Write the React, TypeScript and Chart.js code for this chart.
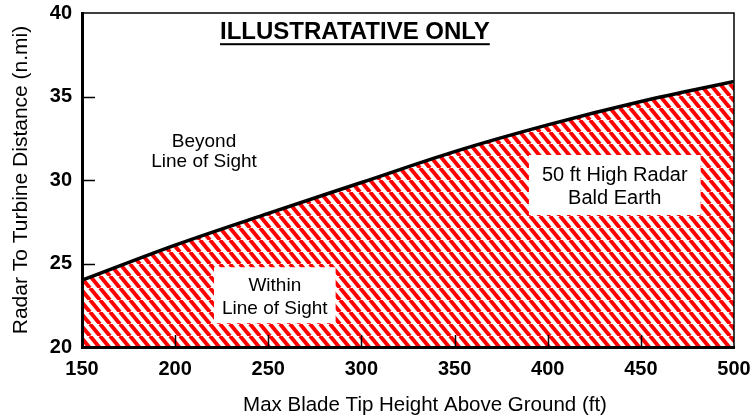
import React, { useEffect, useRef } from "react";
import { Chart, registerables } from "chart.js";

Chart.register(...registerables);

// ---- data ----
const bladeTipHeightsFt = [150, 200, 250, 300, 350, 400, 450, 500];
const lineOfSightNmi = [24.0, 26.1, 28.0, 29.85, 31.7, 33.3, 34.7, 35.9];
const xTickValues = [150, 200, 250, 300, 350, 400, 450, 500];
const yTickValues = [20, 25, 30, 35, 40];

const xAxisTitle = "Max Blade Tip Height Above Ground (ft)";
const yAxisTitle = "Radar To Turbine Distance (n.mi)";
const headline = "ILLUSTRATATIVE ONLY";
const beyondLabel = ["Beyond", "Line of Sight"];
const withinLabel = ["Within", "Line of Sight"];
const radarLabel = ["50 ft High Radar", "Bald Earth"];

// annotation anchors in data units [ft, n.mi]
const headlineAt = [296.5, 38.85];
const beyondAt = [215.5, 31.7];
const withinAt = [253.5, 23.1];
const radarAt = [436, 29.7];

const FONT = "Arial, 'Liberation Sans', Helvetica, sans-serif";

function makeHatch(): CanvasPattern | string {
  const w = 10;
  const h = 12;
  const c = document.createElement("canvas");
  c.width = w;
  c.height = h;
  const g = c.getContext("2d");
  if (!g) return "#ff0000";
  g.fillStyle = "#ffffff";
  g.fillRect(0, 0, w, h);
  g.strokeStyle = "#ff0000";
  g.lineWidth = 4;
  g.beginPath();
  for (let k = -1; k <= 1; k++) {
    g.moveTo(k * w, 0);
    g.lineTo(k * w + w, h);
  }
  g.stroke();
  return g.createPattern(c, "repeat") || "#ff0000";
}

const overlayPlugin = {
  id: "overlay",
  afterDraw(chart: any) {
    const { ctx, chartArea: a, scales } = chart;
    const x = scales.x;
    const y = scales.y;
    ctx.save();
    // thin top & right frame
    ctx.strokeStyle = "#000";
    ctx.lineWidth = 1.5;
    ctx.beginPath();
    ctx.moveTo(a.left, a.top);
    ctx.lineTo(a.right, a.top);
    ctx.lineTo(a.right, a.bottom);
    ctx.stroke();
    // inward tick marks
    ctx.lineWidth = 1.5;
    ctx.beginPath();
    xTickValues.forEach((v) => {
      if (v === x.min || v === x.max) return;
      const px = Math.round(x.getPixelForValue(v)) + 0.5;
      ctx.moveTo(px, a.bottom);
      ctx.lineTo(px, a.bottom - 12);
    });
    yTickValues.forEach((v) => {
      if (v === y.min || v === y.max) return;
      const py = Math.round(y.getPixelForValue(v)) + 0.5;
      ctx.moveTo(a.left, py);
      ctx.lineTo(a.left + 13, py);
    });
    ctx.stroke();

    ctx.fillStyle = "#000";
    ctx.textAlign = "center";
    ctx.textBaseline = "middle";

    // headline, bold & underlined
    ctx.font = `bold 24px ${FONT}`;
    const hx = x.getPixelForValue(headlineAt[0]);
    const hy = y.getPixelForValue(headlineAt[1]);
    ctx.fillText(headline, hx, hy);
    const hw = ctx.measureText(headline).width;
    ctx.fillRect(hx - hw / 2, hy + 11, hw, 2);

    // beyond label
    ctx.font = `19px ${FONT}`;
    const bx = x.getPixelForValue(beyondAt[0]);
    const by = y.getPixelForValue(beyondAt[1]);
    ctx.fillText(beyondLabel[0], bx, by - 9.5);
    ctx.fillText(beyondLabel[1], bx, by + 10);

    const boxed = (lines: string[], at: number[], size: number, padX: number, padY: number, gap: number) => {
      ctx.font = `${size}px ${FONT}`;
      const cx = x.getPixelForValue(at[0]);
      const cy = y.getPixelForValue(at[1]);
      const tw = Math.max(...lines.map((l) => ctx.measureText(l).width));
      const th = gap * lines.length;
      ctx.fillStyle = "#fff";
      ctx.fillRect(cx - tw / 2 - padX, cy - th / 2 - padY, tw + 2 * padX, th + 2 * padY);
      ctx.fillStyle = "#000";
      lines.forEach((l, i) => {
        ctx.fillText(l, cx, cy - th / 2 + gap * (i + 0.5) + 2);
      });
    };
    boxed(withinLabel, withinAt, 19, 8, 5, 23);
    boxed(radarLabel, radarAt, 20, 13, 7, 23);

    // x axis title
    ctx.font = `20.5px ${FONT}`;
    ctx.fillText(xAxisTitle, (a.left + a.right) / 2 + 17, 405);
    ctx.restore();
  },
};

export default function App() {
  const ref = useRef<HTMLCanvasElement | null>(null);

  useEffect(() => {
    document.body.style.margin = "0";
    const canvas = ref.current;
    if (!canvas) return;
    const hatch = makeHatch();
    const chart = new Chart(canvas, {
      type: "line",
      data: {
        datasets: [
          {
            data: bladeTipHeightsFt.map((h, i) => ({ x: h, y: lineOfSightNmi[i] })),
            borderColor: "#000",
            borderWidth: 3.5,
            backgroundColor: hatch as any,
            fill: "start",
            pointRadius: 0,
            cubicInterpolationMode: "monotone",
          },
        ],
      },
      options: {
        responsive: false,
        animation: false,
        layout: { padding: { top: 13, right: 18, left: 0, bottom: 0 } },
        plugins: {
          legend: { display: false },
          tooltip: { enabled: false },
        },
        scales: {
          x: {
            type: "linear",
            min: 150,
            max: 500,
            afterBuildTicks: (s: any) => {
              s.ticks = xTickValues.map((v) => ({ value: v }));
            },
            afterFit: (s: any) => {
              s.height = 72;
              s.paddingLeft = 0;
              s.paddingRight = 0;
            },
            grid: { display: false, drawTicks: false },
            border: { display: true, color: "#000", width: 3, z: 1 },
            ticks: {
              color: "#000",
              padding: 10,
              font: { family: FONT, size: 20, weight: "bold" },
              maxRotation: 0,
            },
            title: { display: false },
          },
          y: {
            type: "linear",
            min: 20,
            max: 40,
            afterBuildTicks: (s: any) => {
              s.ticks = yTickValues.map((v) => ({ value: v }));
            },
            afterFit: (s: any) => {
              s.width = 82;
              s.paddingTop = 0;
              s.paddingBottom = 0;
            },
            grid: { display: false, drawTicks: false },
            border: { display: true, color: "#000", width: 3, z: 1 },
            ticks: {
              color: "#000",
              padding: 10,
              font: { family: FONT, size: 20, weight: "bold" },
            },
            title: {
              display: true,
              text: yAxisTitle,
              color: "#000",
              font: { family: FONT, size: 21 },
              padding: { top: 9, bottom: 0 },
            },
          },
        },
      },
      plugins: [overlayPlugin],
    } as any);
    return () => chart.destroy();
  }, []);

  return (
    <div style={{ width: 752, height: 419 }}>
      <canvas ref={ref} width={752} height={419} style={{ display: "block" }} />
    </div>
  );
}
